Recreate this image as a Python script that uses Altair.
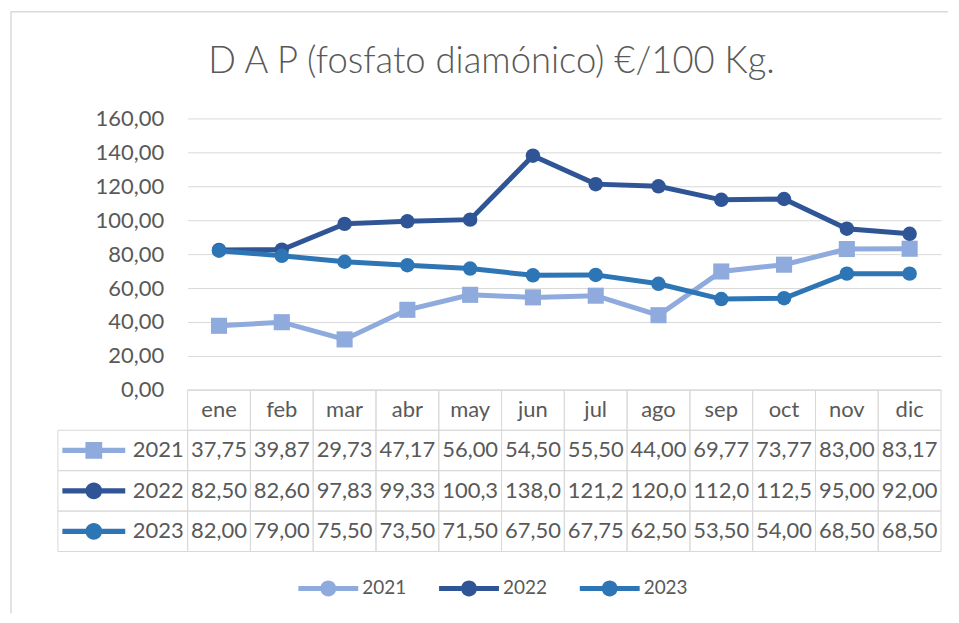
import altair as alt
import pandas as pd

# ---- data ----
months = ['ene', 'feb', 'mar', 'abr', 'may', 'jun', 'jul', 'ago', 'sep', 'oct', 'nov', 'dic']
years = ['2021', '2022', '2023']
v2021 = [37.75, 39.87, 29.73, 47.17, 56.00, 54.50, 55.50, 44.00, 69.77, 73.77, 83.00, 83.17]
v2022 = [82.50, 82.60, 97.83, 99.33, 100.33, 138.00, 121.25, 120.00, 112.00, 112.50, 95.00, 92.00]
v2023 = [82.00, 79.00, 75.50, 73.50, 71.50, 67.50, 67.75, 62.50, 53.50, 54.00, 68.50, 68.50]
y_ticks = [0, 20, 40, 60, 80, 100, 120, 140, 160]
title_text = 'D A P (fosfato diamónico) €/100 Kg.'

# ---- styling ----
colors = ['#8FAADC', '#2F5597', '#2E75B6']
FONT = 'Lato'
GREY = '#595959'
LGREY = '#d9d9d9'
W, HP, HT = 755, 272, 162
rows = ['hdr'] + years

long = pd.DataFrame([
    {'month': m, 'year': y, 'value': v}
    for y, vals in zip(years, [v2021, v2022, v2023])
    for m, v in zip(months, vals)
])
header = pd.DataFrame({'month': months, 'year': ['hdr'] * len(months)})
cells = pd.concat([header, long[['month', 'year']]], ignore_index=True)
label_rows = pd.DataFrame({'year': years})
dummy = pd.DataFrame({'a': [0]})

xs = alt.Scale(type='band', domain=months, paddingInner=0, paddingOuter=0)
x_c = alt.X('month:N', scale=xs, axis=None, bandPosition=0.5)
x_r = alt.X('month:N', scale=xs, axis=None)
ys = alt.Scale(domain=[0, 160], nice=False, zero=True)
rs = alt.Scale(type='band', domain=rows, paddingInner=0, paddingOuter=0)
cscale = alt.Scale(domain=years, range=colors)

y_axis = alt.Axis(values=y_ticks, labelExpr="replace(format(datum.value, '.2f'), '.', ',')",
                  labelFont=FONT, labelFontSize=22, labelColor=GREY, labelPadding=24,
                  domain=False, ticks=False, grid=True, gridColor=LGREY, gridWidth=1, title=None)

# ---- line chart ----
base = alt.Chart(long)
series_layers = []
for yr in years:
    ln = base.transform_filter(alt.datum.year == yr).mark_line(strokeWidth=5).encode(
        x=x_c, y=alt.Y('value:Q', scale=ys, axis=y_axis),
        color=alt.Color('year:N', scale=cscale, legend=None))
    shape = 'square' if yr == '2021' else 'circle'
    size = 260 if yr == '2021' else 210
    pt = base.transform_filter(alt.datum.year == yr).mark_point(
        filled=True, shape=shape, size=size, opacity=1, strokeWidth=0).encode(
        x=x_c, y=alt.Y('value:Q', scale=ys, axis=y_axis),
        color=alt.Color('year:N', scale=cscale, legend=None))
    series_layers += [ln, pt]

# outer frame (top and left edges of the chart area)
frame_top = alt.Chart(dummy).mark_rule(color=LGREY, strokeWidth=1.5).encode(
    x=alt.value(-177), x2=alt.value(762), y=alt.value(-107))
frame_left = alt.Chart(dummy).mark_rule(color=LGREY, strokeWidth=1.5).encode(
    x=alt.value(-177), y=alt.value(-107), y2=alt.value(496))

top = alt.layer(frame_top, frame_left, *series_layers).properties(width=W, height=HP)

# ---- data table ----
yrow_r = alt.Y('year:N', scale=rs, axis=None)
yrow_c = alt.Y('year:N', scale=rs, axis=None, bandPosition=0.5)

cell_rects = alt.Chart(cells).mark_rect(filled=False, stroke=LGREY, strokeWidth=1).encode(
    x=x_r, y=yrow_r)
label_rects = alt.Chart(label_rows).mark_rect(filled=False, stroke=LGREY, strokeWidth=1).encode(
    x=alt.value(-130), x2=alt.value(0), y=yrow_r)
header_text = alt.Chart(header).mark_text(font=FONT, fontSize=22, color=GREY, baseline='middle').encode(
    x=x_c, y=yrow_c, text='month:N')
value_text = alt.Chart(long).transform_calculate(
    label="substring(replace(format(datum.value, '.2f'), '.', ','), 0, 5)"
).mark_text(font=FONT, fontSize=22, color=GREY, baseline='middle').encode(
    x=x_c, y=yrow_c, text='label:N')
row_text = alt.Chart(label_rows).mark_text(font=FONT, fontSize=22, color=GREY, baseline='middle', align='right').encode(
    x=alt.value(-4), y=yrow_c, text='year:N')

# line+marker symbols (unit box [-1,1] scaled by sqrt(size)/2)
sq_path = "M-1.5,-0.125H1.5V0.125H-1.5Z M-0.4,-0.4H0.4V0.4H-0.4Z"
ci_path = "M-1.5,-0.125H1.5V0.125H-1.5Z M-0.4,0A0.4,0.4 0 1,1 0.4,0A0.4,0.4 0 1,1 -0.4,0Z"

leg = alt.Legend(orient='none', legendX=121, legendY=179, direction='horizontal', title=None,
                 symbolSize=1600, symbolStrokeWidth=0, symbolOpacity=1, symbolType=ci_path,
                 labelFont=FONT, labelFontSize=19, labelColor=GREY,
                 labelOffset=14, columnPadding=32)

row_symbols = alt.Chart(label_rows).mark_point(filled=True, strokeWidth=0, size=1764, opacity=1).encode(
    x=alt.value(-94), y=yrow_c,
    shape=alt.Shape('year:N', scale=alt.Scale(domain=years, range=[sq_path, ci_path, ci_path]), legend=None),
    fill=alt.Fill('year:N', scale=cscale, legend=leg))

bottom = alt.layer(cell_rects, label_rects, header_text, value_text, row_text, row_symbols).properties(
    width=W, height=HT)

chart = alt.vconcat(top, bottom, spacing=0, bounds='flush').resolve_legend(fill='independent').properties(
    padding=2,
    title=alt.TitleParams(text=title_text, font=FONT, fontSize=36.5, fontWeight=300, color=GREY,
                          anchor='middle', frame='group', dx=-73, offset=-70)
).configure_view(stroke=None)

chart.save("out.html", embed_options={"renderer": "svg", "actions": False})
